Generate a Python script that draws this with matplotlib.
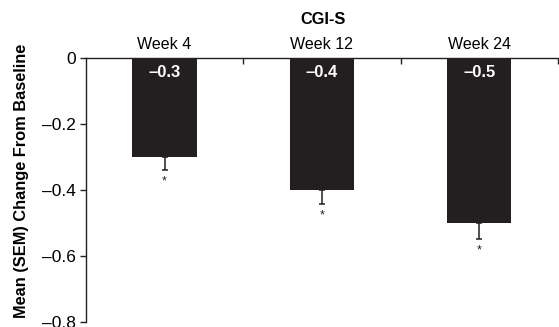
import matplotlib.pyplot as plt
from matplotlib.ticker import FixedLocator, FuncFormatter

plt.rcParams['font.family'] = ['Liberation Sans', 'DejaVu Sans']

weeks = ['Week 4', 'Week 12', 'Week 24']
mean_change = [-0.3, -0.4, -0.5]
sem = [0.04, 0.043, 0.049]
value_labels = ['\u20130.3', '\u20130.4', '\u20130.5']
y_ticks = [0, -0.2, -0.4, -0.6, -0.8]

fig = plt.figure(figsize=(5.59, 3.27), dpi=100)
ax = fig.add_axes([0.1538, 0.0153, 0.844, 0.8073])

x = list(range(len(weeks)))
bar_color = '#231f20'
ax.bar(x, mean_change, width=0.41, color=bar_color, zorder=2)
ax.errorbar(x, mean_change, yerr=[sem, [0] * len(sem)], fmt='none',
            ecolor=bar_color, elinewidth=1.1, capsize=2.2, capthick=1.1, zorder=1)

for xi, m, s, lab in zip(x, mean_change, sem, value_labels):
    ax.text(xi, -0.02, lab, ha='center', va='top', color='white',
            fontsize=12, fontweight='bold')
    ax.text(xi, m - s - 0.015, '*', ha='center', va='top', color=bar_color,
            fontsize=9)

ax.set_xlim(-0.5, 2.5)
ax.set_ylim(-0.8, 0)
ax.set_yticks(y_ticks)
ax.yaxis.set_major_formatter(FuncFormatter(
    lambda v, p: '0' if v == 0 else '\u2013%.1f' % abs(v)))
ax.tick_params(axis='y', direction='out', length=4, width=1, labelsize=12.5,
               color='#231f20', pad=3)

ax.xaxis.tick_top()
ax.set_xticks(x)
ax.set_xticklabels(weeks)
ax.tick_params(axis='x', which='major', length=0, labelsize=11.5, pad=4)
ax.xaxis.set_minor_locator(FixedLocator([0.5, 1.5, 2.5]))
ax.tick_params(axis='x', which='minor', direction='in', length=4, width=1,
               color='#231f20', top=True, bottom=False)

ax.spines['bottom'].set_visible(False)
ax.spines['right'].set_visible(False)
for side in ['top', 'left']:
    ax.spines[side].set_linewidth(1)
    ax.spines[side].set_color('#231f20')

fig.text(22 / 559, 1 - 180.5 / 327, 'Mean (SEM) Change From Baseline',
         rotation=90, ha='center', va='center', fontsize=11.8, fontweight='bold')
fig.text(323 / 559, 1 - 20 / 327, 'CGI-S', ha='center', va='center',
         fontsize=11.8, fontweight='bold')

fig.savefig('out.png', dpi=100)
